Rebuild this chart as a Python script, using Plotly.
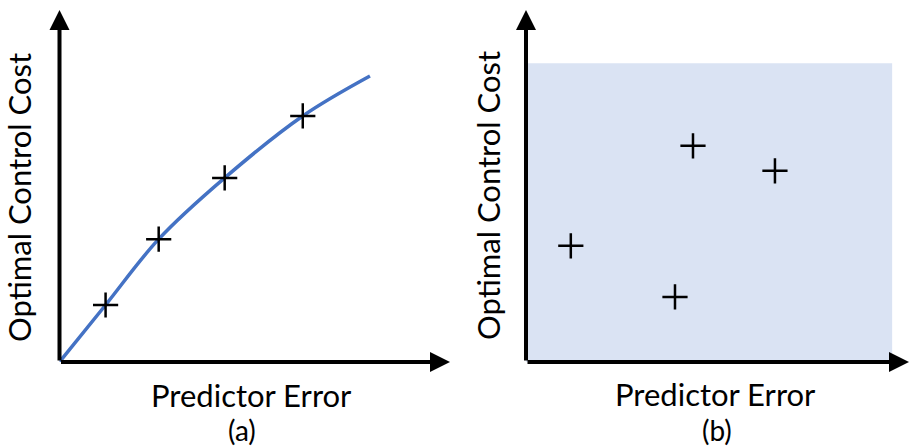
import plotly.graph_objects as go

# panel (a): predictor error vs optimal control cost, monotone curve
curve_x = [0.0, 0.118, 0.254, 0.423, 0.623, 0.795]
curve_y = [0.0, 0.162, 0.349, 0.523, 0.699, 0.8125]
marks_a_x = [0.118, 0.254, 0.423, 0.623]
marks_a_y = [0.162, 0.349, 0.523, 0.699]

# panel (b): scattered points inside a shaded region
marks_b_x = [0.117, 0.436, 0.650, 0.389]
marks_b_y = [0.330, 0.614, 0.543, 0.185]
region_b = [0.0, 0.956, 0.0, 0.849]  # x0, x1, y0, y1

x_label = "Predictor Error"
y_label = "Optimal Control Cost"
panel_labels = ["(a)", "(b)"]

W, H = 909, 447
FONT = "Lato"


def px(x):
    return x / W


def py(y):
    return 1 - y / H


fig = go.Figure()

fig.add_trace(go.Scatter(
    x=curve_x, y=curve_y, mode="lines", line=dict(color="#4472C4", width=3.5, shape="spline"),
    xaxis="x", yaxis="y", hoverinfo="skip"))
fig.add_trace(go.Scatter(
    x=marks_a_x, y=marks_a_y, mode="markers",
    marker=dict(symbol="cross-thin", size=18, line=dict(color="black", width=2.5)),
    xaxis="x", yaxis="y"))
fig.add_trace(go.Scatter(
    x=marks_b_x, y=marks_b_y, mode="markers",
    marker=dict(symbol="cross-thin", size=18, line=dict(color="black", width=2.5)),
    xaxis="x2", yaxis="y2"))

# shaded region in panel b
fig.add_shape(type="rect", xref="x2", yref="y2",
              x0=region_b[0], x1=region_b[1], y0=region_b[2], y1=region_b[3],
              fillcolor="#DAE3F3", line=dict(width=0), layer="below")

# axes with arrow heads
for xr, yr in [("x", "y"), ("x2", "y2")]:
    for tx, ty in [(1.0, 0.0), (0.0, 1.0)]:
        fig.add_annotation(x=tx, y=ty, ax=0, ay=0, xref=xr, yref=yr, axref=xr, ayref=yr,
                           showarrow=True, arrowhead=2, arrowsize=1.0, arrowwidth=4,
                           arrowcolor="black", text="")

# text labels
def label(x, y, text, size, angle=0):
    fig.add_annotation(x=px(x), y=py(y), xref="paper", yref="paper", text=text,
                       textangle=angle, showarrow=False, xanchor="center", yanchor="middle",
                       borderpad=0, font=dict(family=FONT, size=size, color="black"))


label(251.5, 394.5, x_label, 31)
label(715.5, 394, x_label, 31)
label(241.5, 430, panel_labels[0], 28)
label(717, 430, panel_labels[1], 28)
label(19, 198, y_label, 31, -90)
label(488, 196, y_label, 31, -90)

ax_style = dict(visible=False, range=[0, 1], fixedrange=True)
fig.update_layout(
    width=W, height=H,
    margin=dict(l=0, r=0, t=0, b=0),
    paper_bgcolor="white", plot_bgcolor="white",
    showlegend=False,
    xaxis=dict(domain=[px(59.5), px(450)], **ax_style),
    yaxis=dict(domain=[py(362), py(10)], **ax_style),
    xaxis2=dict(domain=[px(526), px(909)], anchor="y2", **ax_style),
    yaxis2=dict(domain=[py(362), py(10)], anchor="x2", **ax_style),
)

# drop the default 8px body margin so the figure fills the window exactly
fig.write_html("out.html", config={"displayModeBar": False},
               post_script="document.body.style.margin = '0';")
